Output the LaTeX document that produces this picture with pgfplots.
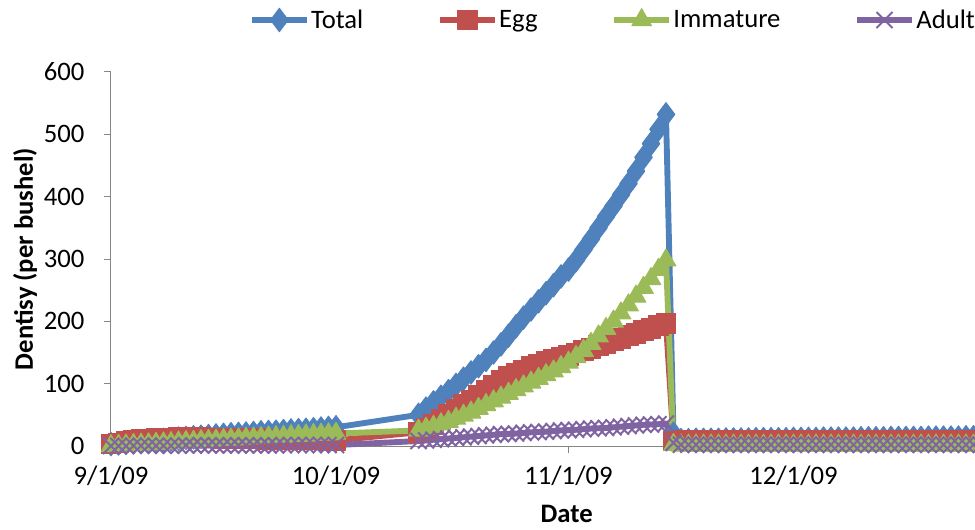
\documentclass[border=0pt]{standalone}
\usepackage{fontspec}
\setmainfont{Carlito}
\usepackage{pgfplots}
\usepackage{pgfplotstable}
\pgfplotsset{compat=1.18}
\definecolor{cTotal}{HTML}{4F81BD}
\definecolor{cEgg}{HTML}{C0504D}
\definecolor{cImm}{HTML}{9BBB59}
\definecolor{cAdult}{HTML}{8064A2}
\definecolor{axisgray}{HTML}{868686}
\pgfplotstableread{
day total egg imm adult
0 3 3 0 0
1 4 5 0.5 0
2 5 7 1 0
3 6 8.5 2 0.5
4 7 10 2.5 0.5
5 8 11 3 0.5
6 9 12 4 0.5
7 10 12.5 4.5 0.5
8 11 13 5 0.5
9 12 13.5 6 0.5
10 13 13.5 6.5 1
11 14 13.5 7 1
12 15 13.5 8 1
13 16 13 8.5 1
14 17 13 9 1
15 18 12.5 10 1
16 19 12.5 10.5 1
17 19.5 12 11 1
18 20 12 12 1
19 21 11.5 12.5 1
20 22 11.5 13 1
21 22.5 11 14 1
22 23 11 14.5 1
23 24 10.5 15 1.5
24 25 10.5 16 1.5
25 25.5 10 16.5 1.5
26 26 10 17 1.5
27 27 9.5 18 1.5
28 28 9.5 18.5 1.5
29 29 9 19 1.5
30 30 9 20 1.5
41 50 22 25 8
42 60 28 28 9
43 70 35 31 10
44 79 42 35 11
45 88 50 39 12
46 98 58 44 13
47 108 66 49 14
48 118 74 54 15
49 128 82 60 16
50 138 90 66 17
51 150 98 72 18
52 163 105 78 19
53 177 111 84 19.5
54 192 117 90 20
55 206 122 96 21
56 219 127 102 22
57 232 131 108 22.5
58 245 135 114 23
59 258 139 120 24
60 272 142 127 25
61 283 145 134 25.5
62 298 149 143 26
63 315 153 153 27
64 332 157 164 28
65 350 161 176 28.5
66 368 165 188 29
67 385 169 200 30
68 403 173 213 31
69 421 177 226 32
70 441 181 240 33
71 463 185 254 34
72 485 189 268 34.5
73 508 193 283 35
74 532 197 298 36
75 20 8 2 5
76 9.5 9 1 2
77 9.5 9 1 2
78 10 9 1 2
79 10 9 1 2
80 10 9 1 2
81 10 9 1 2
82 10.5 9 1 2
83 10.5 9 1 2
84 10.5 9 1 2
85 10.5 9 1 2
86 11 9 1 2
87 11 9 1 2
88 11 9 1 2
89 11 9 1 2
90 11 9 1 2
91 11.5 9 1 2
92 11.5 9 1 2
93 11.5 9 1 2
94 11.5 9 1 2
95 12 9 1 2
96 12 9 1 2
97 12 9 1 2
98 12 9 1 2
99 12 9 1 2
100 12.5 9 1 2
101 12.5 9 1 2
102 12.5 9 1 2
103 12.5 9 1 2
104 13 9 1 2
105 13 9 1 2
106 13 9 1 2
107 13 9 1 2
108 13 9 1 2
109 13.5 9 1 2
110 13.5 9 1 2
111 13.5 9 1 2
112 13.5 9 1 2
113 13.5 9 1 2
114 14 9 1 2
115 14 9 1 2
116 14 9 1 2
117 14 9 1 2
118 14 9 1 2
119 14 9 1 2
120 14 9 1 2
121 14 9 1 2
122 14 9 1 2
}\datatable
\begin{document}
\begin{tikzpicture}
\path[use as bounding box] (-83.25pt,-62.25pt) rectangle (648pt,334.5pt);
\begin{axis}[
  at={(0,0)}, anchor=south west,
  scale only axis, width=686.25pt, height=280.5pt,
  xmin=0, xmax=122, ymin=0, ymax=600,
  clip=false,
  axis x line*=bottom, axis y line*=left,
  axis line style={draw=axisgray, line width=0.75pt, -},
  tick align=outside, major tick length=5.25pt,
  tick style={draw=axisgray, line width=0.75pt},
  xtick={0,30,61,91},
  xticklabels={9/1/09,10/1/09,11/1/09,12/1/09},
  ytick={0,100,200,300,400,500,600},
  minor tick num=0,
  /pgf/number format/assume math mode=true,
  tick label style={font=\fontsize{20}{24}\selectfont, inner sep=0pt},
  xticklabel style={anchor=base, yshift=-23.5pt},
  yticklabel style={anchor=east, xshift=-14.5pt},
  xlabel={\textbf{Date}},
  ylabel={\textbf{Dentisy (per bushel)}},
  label style={font=\fontsize{20}{24}\selectfont},
  xlabel style={at={(axis description cs:0.498,-0.182)}, anchor=center},
  ylabel style={at={(axis description cs:-0.094,0.5)}, rotate=0, anchor=center},
  legend columns=4,
  legend style={at={(axis description cs:0.1505,1.139)}, anchor=west,
    draw=none, fill=none, inner sep=0pt,
    font=\fontsize{20}{24}\selectfont,
    nodes={inner xsep=1pt, inner ysep=0pt},
    /tikz/every even column/.append style={column sep=54.25pt}},
  legend image code/.code={\draw[mark repeat=2, mark phase=2, #1] plot coordinates {(0pt,0pt) (20.6pt,0pt) (41.25pt,0pt)};},
]
\addplot[color=cTotal, line width=4.4pt, line join=round, mark=diamond*, mark size=8.8pt,
  mark options={solid, line width=0.75pt, fill=cTotal}] table[x=day, y=total] {\datatable};
\addlegendentry{Total}
\addplot[color=cEgg, line width=4.4pt, line join=round, mark=square*, mark size=7.4pt,
  mark options={solid, line width=0.75pt, fill=cEgg}] table[x=day, y=egg] {\datatable};
\addlegendentry{Egg}
\addplot[color=cImm, line width=4.4pt, line join=round, mark=triangle*, mark size=8.5pt,
  mark options={solid, line width=0.75pt, fill=cImm}] table[x=day, y=imm] {\datatable};
\addlegendentry{Immature}
\addplot[color=cAdult, line width=4.4pt, line join=round, mark=x, mark size=8.5pt,
  mark options={solid, line width=1.5pt}] table[x=day, y=adult] {\datatable};
\addlegendentry{Adult}
\end{axis}
\end{tikzpicture}
\end{document}
